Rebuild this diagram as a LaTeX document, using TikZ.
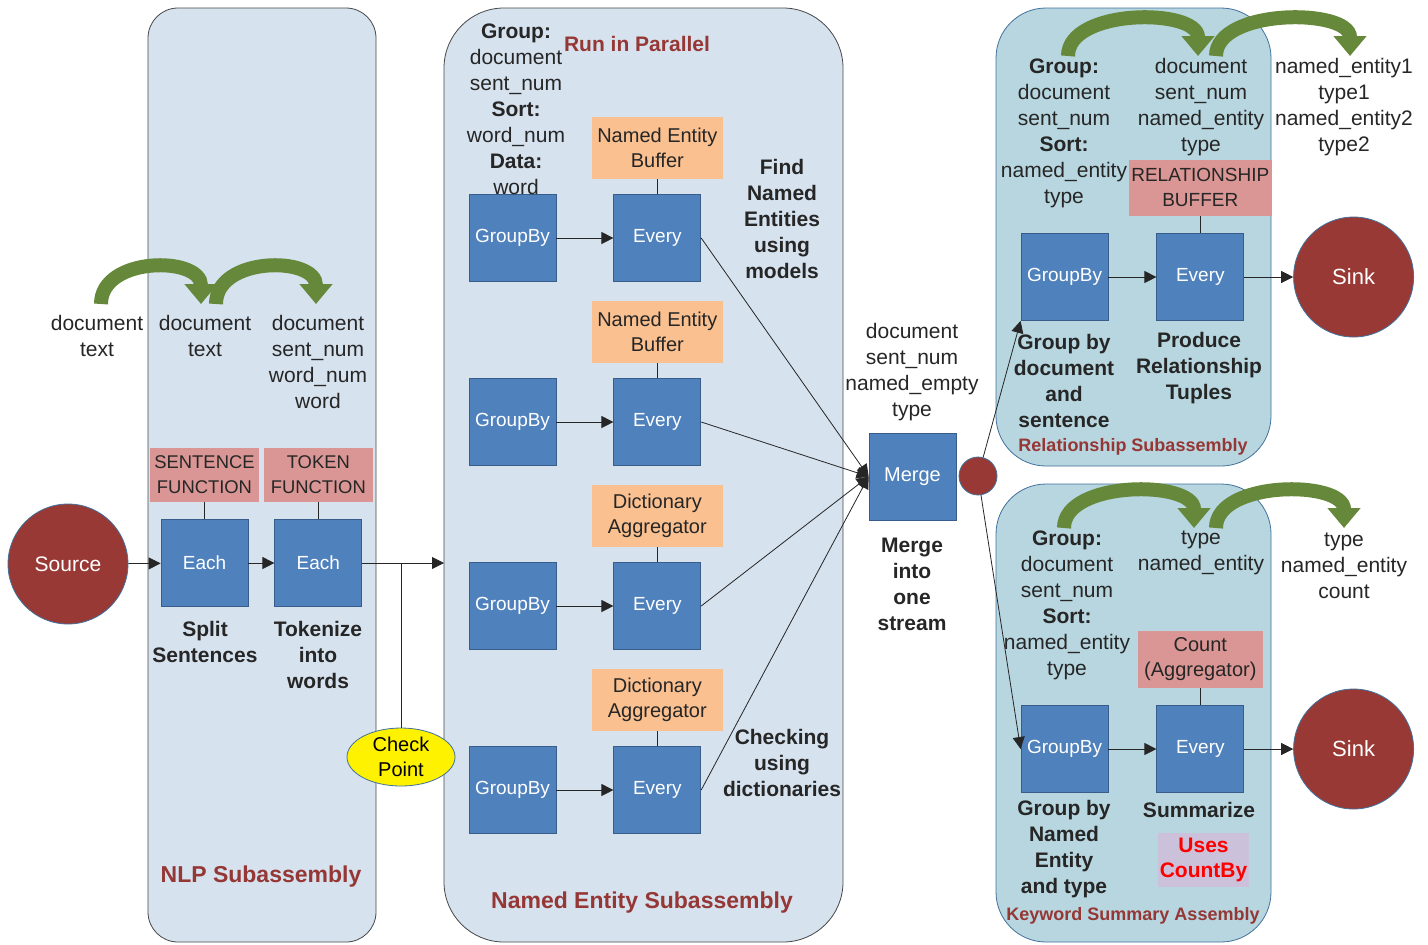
\documentclass[tikz,border=0pt]{standalone}
\usepackage{fontspec}
\setmainfont{Liberation Sans}
\usetikzlibrary{arrows.meta,positioning,shapes.geometric}

\definecolor{panelblue}{HTML}{D6E2EE}
\definecolor{panelteal}{HTML}{B7D6DF}
\definecolor{panelline}{HTML}{41719C}
\definecolor{boxblue}{HTML}{4F81BD}
\definecolor{boxedge}{HTML}{385D8A}
\definecolor{pipered}{HTML}{993936}
\definecolor{rosefill}{HTML}{D99694}
\definecolor{peachfill}{HTML}{FAC090}
\definecolor{lilacfill}{HTML}{CCC1DA}
\definecolor{titlered}{HTML}{953735}
\definecolor{carrygreen}{HTML}{66883A}
\definecolor{inkgray}{HTML}{262626}

\tikzset{
  pipe/.style={draw=boxedge, fill=boxblue, text=white, minimum width=43.5pt,
    minimum height=43.5pt, inner sep=0pt, font=\fontsize{9.5}{12}\selectfont},
  tap/.style={circle, draw=panelline, fill=pipered, text=white, minimum size=60pt,
    inner sep=0pt, font=\fontsize{11}{13}\selectfont},
  hub/.style={circle, draw=panelline, fill=pipered, minimum size=19pt, inner sep=0pt},
  tagbox/.style={align=center, inner sep=0pt, text=inkgray,
    font=\fontsize{10}{12.5}\selectfont},
  rosebox/.style={tagbox, fill=rosefill},
  peachbox/.style={tagbox, fill=peachfill, minimum width=65.5pt, minimum height=31pt},
  fields/.style={align=center, inner sep=0pt, text=inkgray,
    font=\fontsize{10.5}{13}\selectfont},
  notes/.style={fields, font=\fontsize{10.5}{13}\selectfont\bfseries},
  title/.style={inner sep=0pt, text=titlered, font=\fontsize{11.5}{14}\selectfont\bfseries},
  flow/.style={draw=inkgray, -{Triangle[length=6pt,width=6pt]}},
  tie/.style={draw=inkgray},
  carryline/.style={draw=carrygreen, line width=7pt, -{Triangle[length=10pt,width=16pt]}},
}

% green hop arrow between two column headings
\newcommand{\carry}[2]{
  \draw[carryline] #1 .. controls +(0,-48) and +(0,-48) .. #2;
}

\begin{document}
\begin{tikzpicture}[x=0.5pt,y=-0.5pt]
  \useasboundingbox (0,0) rectangle (1428,944);

  % subassembly frames
  \draw[draw=inkgray!85, fill=panelblue, rounded corners=15pt] (148,8) rectangle (376,942);
  \draw[draw=inkgray!85, fill=panelblue, rounded corners=30pt] (444,8) rectangle (843,942);
  \draw[draw=panelline, fill=panelteal, rounded corners=25pt] (996,8) rectangle (1271,466);
  \draw[draw=panelline, fill=panelteal, rounded corners=25pt] (996,484) rectangle (1271,942);

  % NLP subassembly
  \node[tap] (source) at (68,564) {\fontsize{10.5}{13}\selectfont Source};
  \node[pipe] (each1) at (204.5,563) {Each};
  \node[pipe, right=13pt of each1] (each2) {Each};
  \node[rosebox, minimum width=54.5pt, minimum height=27pt, above=8.5pt of each1,
    font=\fontsize{9.2}{12.5}\selectfont] (sentfn) {SENTENCE\\FUNCTION};
  \node[rosebox, minimum width=54.5pt, minimum height=27pt, above=8.5pt of each2,
    font=\fontsize{9.2}{12.5}\selectfont] (tokfn) {TOKEN\\FUNCTION};
  \draw[tie] (sentfn) -- (each1);
  \draw[tie] (tokfn) -- (each2);
  \draw[flow] (source) -- (each1);
  \draw[flow] (each1) -- (each2);
  \coordinate (nein) at (444,563);
  \coordinate (fork) at (401,563);
  \draw[flow] (each2) -- (nein);
  \node[ellipse, draw=panelline, fill=yellow, minimum width=54pt, minimum height=29pt,
    inner sep=0pt, align=center, font=\fontsize{10}{12.5}\selectfont] (chk) at (401,757) {Check\\Point};
  \draw[tie] (fork) -- (chk);

  \node[fields] (nlpin) at (97,336) {document\\text};
  \node[fields] (nlpmid) at (205,336) {document\\text};
  \node[fields] (nlpout) at (318,362) {document\\sent\_num\\word\_num\\word};
  \carry{(101,304)}{(201,304)}
  \carry{(216,304)}{(316,304)}
  \node[notes] (splitnote) at (205,642) {Split\\Sentences};
  \node[notes] (toknote) at (318,655) {Tokenize\\into\\words};
  \node[title] (nlptitle) at (261,877) {NLP Subassembly};

  % named entity subassembly, four branches run side by side
  \node[pipe] (merge) at (912.5,476.5) {\fontsize{10}{12}\selectfont Merge};
  \foreach \r/\y/\what in {1/238/{Named Entity\\Buffer}, 2/422/{Named Entity\\Buffer},
                            3/606/{Dictionary\\Aggregator}, 4/790/{Dictionary\\Aggregator}} {
    \node[pipe] (gb\r) at (512.5,\y) {GroupBy};
    \node[pipe, right=28.5pt of gb\r] (ev\r) {Every};
    \node[peachbox, above=7.5pt of ev\r] (buf\r) {\what};
    \draw[flow] (gb\r) -- (ev\r);
    \draw[tie] (buf\r) -- (ev\r);
    \draw[flow] (ev\r.east) -- (merge.west);
  }
  \node[fields] (grouping) at (516,109) {\textbf{Group:}\\document\\sent\_num\\\textbf{Sort:}\\word\_num\\\textbf{Data:}\\word};
  \node[title, font=\fontsize{10.5}{13}\selectfont\bfseries] (parallel) at (637,44) {Run in Parallel};
  \node[notes] (findnote) at (782,219) {Find\\Named\\Entities\\using\\models};
  \node[notes] (checknote) at (782,763) {Checking\\using\\dictionaries};
  \node[title] (netitle) at (642,903) {Named Entity Subassembly};

  % merge
  \node[fields] (mergefields) at (912,372) {document\\sent\_num\\named\_empty\\type};
  \node[notes] (mergenote) at (912,584) {Merge\\into\\one\\stream};
  \node[hub] (hub) at (978,476) {};

  % relationship subassembly
  \node[pipe] (rgb) at (1064.5,277) {GroupBy};
  \node[pipe, right=24pt of rgb] (rev) {Every};
  \node[tap, right=24.5pt of rev] (rsink) {Sink};
  \node[rosebox, minimum width=71.5pt, minimum height=28pt, above=8.5pt of rev,
    font=\fontsize{9.5}{12.5}\selectfont] (relbuf) {RELATIONSHIP\\BUFFER};
  \draw[tie] (relbuf) -- (rev);
  \draw[flow] (rgb) -- (rev);
  \draw[flow] (rev) -- (rsink);
  \draw[flow] (hub) -- (rgb.south west);
  \node[fields] (relgroup) at (1064,133) {\textbf{Group:}\\document\\sent\_num\\\textbf{Sort:}\\named\_entity\\type};
  \node[fields] (relmid) at (1201,107) {document\\sent\_num\\named\_entity\\type};
  \node[fields] (relout) at (1344,107) {named\_entity1\\type1\\named\_entity2\\type2};
  \carry{(1068,56)}{(1198,56)}
  \carry{(1216,56)}{(1350,56)}
  \node[notes] (relnote1) at (1064,381) {Group by\\document\\and\\sentence};
  \node[notes] (relnote2) at (1199,368) {Produce\\Relationship\\Tuples};
  \node[title, font=\fontsize{9}{11}\selectfont\bfseries] (reltitle) at (1133,447) {Relationship Subassembly};

  % keyword summary assembly
  \node[pipe] (kgb) at (1064.5,749) {GroupBy};
  \node[pipe, right=24pt of kgb] (kev) {Every};
  \node[tap, right=24.5pt of kev] (ksink) {Sink};
  \node[rosebox, minimum width=62.5pt, minimum height=28.5pt, above=8.5pt of kev] (countbox) {Count\\(Aggregator)};
  \draw[tie] (countbox) -- (kev);
  \draw[flow] (kgb) -- (kev);
  \draw[flow] (kev) -- (ksink);
  \draw[flow] (hub) -- (kgb.west);
  \node[fields] (kwgroup) at (1067,605) {\textbf{Group:}\\document\\sent\_num\\\textbf{Sort:}\\named\_entity\\type};
  \node[fields] (kwmid) at (1201,553) {type\\named\_entity};
  \node[fields] (kwout) at (1344,566) {type\\named\_entity\\count};
  \carry{(1064,528)}{(1194,528)}
  \carry{(1216,528)}{(1344,528)}
  \node[notes] (kwnote1) at (1064,849) {Group by\\Named\\Entity\\and type};
  \node[notes] (kwnote2) at (1199,810) {Summarize};
  \node[tagbox, fill=lilacfill, minimum width=45.5pt, minimum height=27pt, text=red,
    font=\fontsize{10.5}{12.5}\selectfont\bfseries] (countby) at (1203.5,860) {Uses\\CountBy};
  \node[title, font=\fontsize{9}{11}\selectfont\bfseries] (kwtitle) at (1133,916) {Keyword Summary Assembly};
\end{tikzpicture}
\end{document}
